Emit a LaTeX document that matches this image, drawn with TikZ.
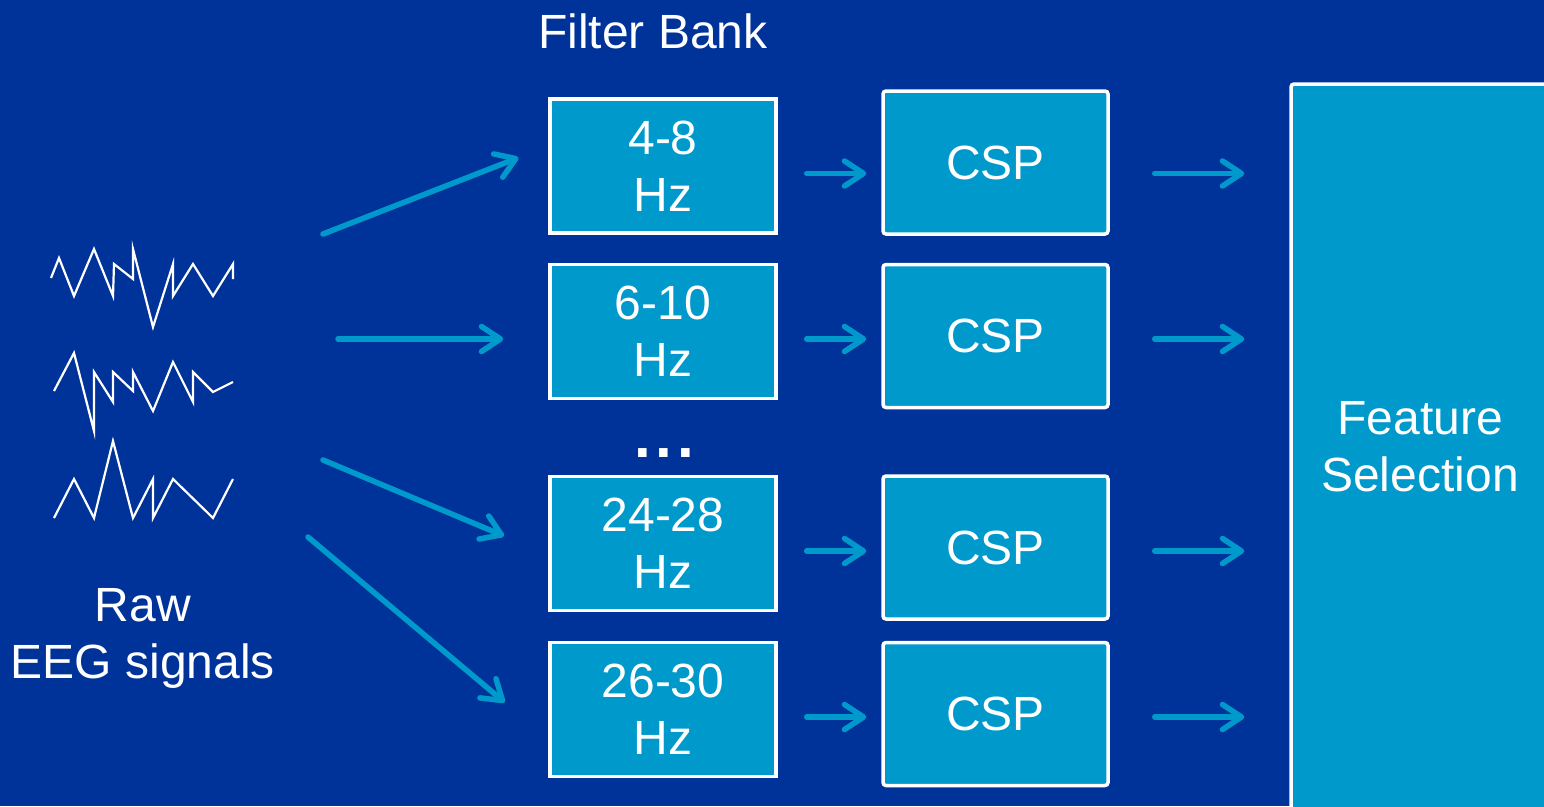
\documentclass[tikz,border=0pt]{standalone}
\usepackage{fontspec}
\setmainfont{Liberation Sans}
\usetikzlibrary{arrows.meta}
\definecolor{bgblue}{RGB}{0,51,153}
\definecolor{boxblue}{RGB}{0,153,204}
\newcommand{\bigtext}{\fontsize{48}{57}\selectfont}

\begin{document}
\begin{tikzpicture}[x=1pt,y=-1pt]
    \tikzstyle{band}=[rectangle,draw=white,fill=boxblue,line width=3.5pt,text=white,align=center,inner sep=0pt,font=\bigtext]
    \tikzstyle{filterbox}=[band,minimum width=226pt,minimum height=134pt]
    \tikzstyle{cspbox}=[band,minimum width=225pt,minimum height=143pt,rounded corners=3pt]
    \tikzstyle{flow}=[draw=boxblue,line width=5.5pt,line cap=round,-{Straight Barb[length=19pt,width=25pt,round]}]
    \tikzstyle{wave}=[draw=white,line width=2.2pt]
    \tikzstyle{plaintext}=[text=white,font=\bigtext,align=center,inner sep=0pt]
    \useasboundingbox (0,0) rectangle (1544,806);
    \clip (0,0) rectangle (1544,806);
    \fill[bgblue] (0,0) rectangle (1544,806);
    % raw signals
    \draw[wave] (51,278) -- (59,258) -- (74,296) -- (94,249) -- (113,296) -- (114,264) -- (133,279) -- (133,249) -- (153,327) -- (173,264) -- (173,296) -- (193,264) -- (213,296) -- (233,264) -- (233,279);
    \draw[wave] (54,391) -- (74,353) -- (94,431) -- (94,372) -- (113,402) -- (113,372) -- (133,391) -- (133,372) -- (153,411) -- (173,362) -- (193,402) -- (193,372) -- (213,392) -- (233,382);
    \draw[wave] (54,518) -- (74,479) -- (94,518) -- (113,441) -- (133,518) -- (153,479) -- (153,518) -- (173,479) -- (213,518) -- (233,479);
    \node[plaintext] (raw) at (143,638) {Raw\\EEG signals};
    % filter bank
    \node[plaintext] (bank) at (653,31) {Filter Bank};
    \node[filterbox] (f1) at (663,166) {4-8\\Hz};
    \node[filterbox] (f2) at (663,331.5) {6-10\\Hz};
    \node[plaintext,font=\fontsize{60}{60}\selectfont] (dots) at (664,453) {\textbf{.\hspace{5pt}.\hspace{5pt}.}};
    \node[filterbox] (f3) at (663,543.5) {24-28\\Hz};
    \node[filterbox] (f4) at (663,709.5) {26-30\\Hz};
    % csp
    \node[cspbox] (c1) at (995.5,162.5) {CSP};
    \node[cspbox] (c2) at (995.5,336) {CSP};
    \node[cspbox] (c3) at (995.5,547.5) {CSP};
    \node[cspbox] (c4) at (995.5,714) {CSP};
    \node[band,minimum width=258pt,minimum height=726pt,rounded corners=3pt] (fs) at (1420,447) {Feature\\Selection};
    % arrows
    \coordinate (s1) at (323,234);
    \coordinate (s2) at (338,339);
    \coordinate (s3) at (323,460);
    \coordinate (s4) at (308,537);
    \draw[flow,shorten >=32pt] (s1) -- ([yshift=20pt]f1.west);
    \draw[flow,shorten >=45pt] (s2) -- ([yshift=-7.5pt]f2.west);
    \draw[flow,shorten >=48pt] (s3) -- ([yshift=-11pt]f3.west);
    \draw[flow,shorten >=57pt] (s4) -- ([yshift=-29.5pt]f4.west);
    \foreach \i in {1,...,4} {
      \draw[flow,shorten <=29pt,shorten >=15pt] ([yshift=-7.5pt]f\i.east) -- ([yshift=-7.5pt]f\i.east -| c\i.west);
      \draw[flow,shorten <=45pt,shorten >=45pt] ([yshift=-7.5pt]f\i.east -| c\i.east) -- ([yshift=-7.5pt]f\i.east -| fs.west);
    }
\end{tikzpicture}
\end{document}
